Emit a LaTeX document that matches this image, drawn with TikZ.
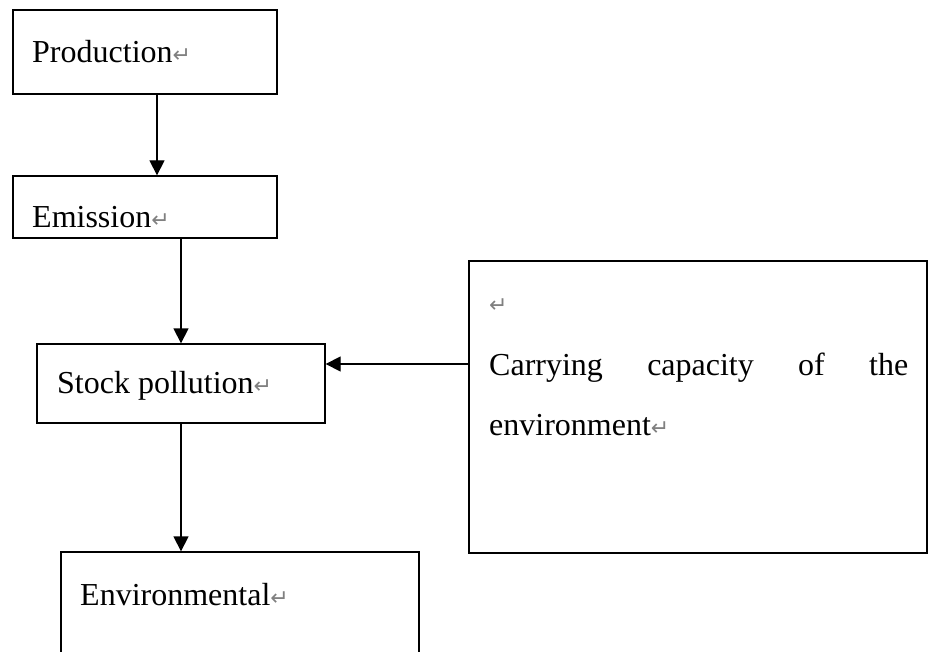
\documentclass[tikz,border=0pt]{standalone}
\usepackage{fontspec}
\setmainfont{Liberation Serif}
\newfontfamily\markfont{DejaVu Sans}
\usetikzlibrary{arrows.meta}
\newcommand{\rmark}{{\markfont\fontsize{22}{22}\selectfont\color{gray}\char"21B5}}
\begin{document}
\begin{tikzpicture}[x=1pt,y=-1pt,
  box/.style={draw=black, line width=1.3pt, rectangle, inner sep=0pt},
  txt/.style={anchor=base west, inner sep=0pt, font=\fontsize{32}{36}\selectfont},
  arr/.style={draw=black, line width=1.3pt, -{Triangle[width=15pt,length=15pt]}}]
\useasboundingbox (0,0) rectangle (928,652);
\clip (0,0) rectangle (928,652);
% boxes
\node[box, minimum width=264pt, minimum height=84pt] (prod) at (145,52) {};
\node[box, minimum width=264pt, minimum height=62pt] (em) at (145,207) {};
\node[box, minimum width=288pt, minimum height=79pt] (stock) at (181,383.5) {};
\node[box, minimum width=458pt, minimum height=292pt] (carry) at (698,407) {};
\node[box, minimum width=358pt, minimum height=140pt] (env) at (240,622) {};
% texts
\node[txt] (tprod) at (32,63) {Production\rmark};
\node[txt] (tem) at (32,228) {Emission\rmark};
\node[txt] (tstock) at (57,393) {Stock pollution\rmark};
\node[txt] (tmark) at (489,312) {\rmark};
\node[txt] (tcarry1) at (489,375) {\makebox[419pt][s]{Carrying\hfill capacity\hfill of\hfill the}};
\node[txt] (tcarry2) at (489,435) {environment\rmark};
\node[txt] (tenv) at (80,605) {Environmental\rmark};
% connectors
\draw[arr] ([xshift=12pt]prod.south) -- ([xshift=12pt]em.north);
\draw[arr] (em.south -| stock.north) -- (stock.north);
\draw[arr] ([yshift=19.5pt]stock.east -| carry.west) -- ([yshift=19.5pt]stock.east);
\draw[arr] (stock.south) -- (stock.south |- env.north);
\end{tikzpicture}
\end{document}
